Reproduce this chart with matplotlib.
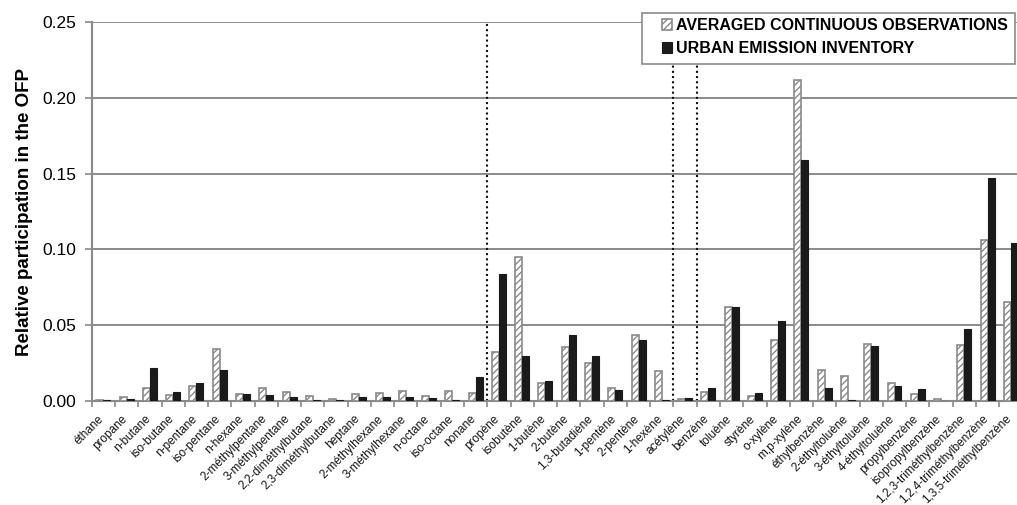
import numpy as np
import matplotlib
matplotlib.use("Agg")
import matplotlib.pyplot as plt
import matplotlib.transforms as mtransforms
from matplotlib.patches import Rectangle

plt.rcParams['font.family'] = ['Liberation Sans', 'DejaVu Sans']
plt.rcParams['hatch.linewidth'] = 1.0

species = ["éthane", "propane", "n-butane", "iso-butane", "n-pentane", "iso-pentane",
           "n-hexane", "2-méthylpentane", "3-méthylpentane", "2,2-diméthylbutane",
           "2,3-diméthylbutane", "heptane", "2-méthylhexane", "3-méthylhexane",
           "n-octane", "iso-octane", "nonane", "propène", "isobutène", "1-butène",
           "2-butène", "1,3-butadiène", "1-pentène", "2-pentène", "1-hexène",
           "acétylène", "benzène", "toluène", "styrène", "o-xylène", "m,p-xylène",
           "éthylbenzène", "2-éthyltoluène", "3-éthyltoluène", "4-éthyltoluène",
           "propylbenzène", "isopropylbenzène", "1,2,3-triméthylbenzène",
           "1,2,4-triméthylbenzène", "1,3,5-triméthylbenzène"]

observations = [0.001, 0.0024, 0.0084, 0.004, 0.0097, 0.0343, 0.0044, 0.0084, 0.0058,
                0.0031, 0.0013, 0.0049, 0.0053, 0.0068, 0.0035, 0.0068, 0.0053,
                0.0323, 0.0953, 0.012, 0.0354, 0.0248, 0.0089, 0.0434, 0.0195,
                0.0013, 0.0058, 0.0622, 0.0031, 0.0403, 0.212, 0.0204, 0.0164,
                0.0374, 0.012, 0.0047, 0.0011, 0.037, 0.106, 0.0654]

inventory = [0.001, 0.0015, 0.022, 0.0062, 0.0117, 0.0204, 0.0044, 0.0038, 0.0027,
             0.0004, 0.0009, 0.0027, 0.0027, 0.0027, 0.0022, 0.0004, 0.016,
             0.084, 0.0295, 0.0131, 0.0436, 0.0295, 0.0075, 0.0401, 0.0004,
             0.0018, 0.0084, 0.062, 0.0055, 0.0527, 0.159, 0.0084, 0.0009,
             0.0361, 0.010, 0.0078, 0.0, 0.0472, 0.147, 0.1043]

# group separators (alkanes | alkenes | alkyne | aromatics)
separators = [17, 25, 26]

fig = plt.figure(figsize=(10.17, 5.05), dpi=100)
ax = fig.add_axes([0.0902, 0.2059, 0.9152, 0.7505])

x = np.arange(len(species))
w = 0.3
grey = '#8a8a8a'

ax.set_axisbelow(True)
ax.yaxis.grid(True, color=grey, linewidth=1.4)
b1 = ax.bar(x + 0.5 - w / 2, observations, width=w, facecolor='white', edgecolor=grey,
            hatch='/////', linewidth=1.2, label='AVERAGED CONTINUOUS OBSERVATIONS', zorder=3)
b2 = ax.bar(x + 0.5 + w / 2, inventory, width=w, color='#1a1a1a', edgecolor='#1a1a1a',
            linewidth=0.8, label='URBAN EMISSION INVENTORY', zorder=3)

for s in separators:
    ax.axvline(s, color='#111111', linestyle=(0, (1, 1.5)), linewidth=1.5, zorder=2)

ax.set_xlim(0, len(species))
ax.set_ylim(0, 0.25)
ax.set_yticks(np.arange(0, 0.2501, 0.05))
ax.set_yticklabels([f"{v:.2f}" for v in np.arange(0, 0.2501, 0.05)], fontsize=12.5)

ax.set_xticks(np.arange(len(species) + 1))
ax.set_xticklabels([])
ax.set_xticks(x + 0.5, minor=True)
ax.set_xticklabels(species, minor=True, rotation=45, ha='right',
                   rotation_mode='anchor', fontsize=8.5, color='#151515')
ax.tick_params(axis='x', which='minor', length=0, pad=8.5)
ax.tick_params(axis='x', which='major', length=4, color=grey, width=1.2)
ax.tick_params(axis='y', length=5, color=grey, width=1.2, pad=6)

# nudge the slanted labels a little to the left, like the original
shift = mtransforms.ScaledTranslation(-4 / 72, 0, fig.dpi_scale_trans)
for lab in ax.get_xticklabels(minor=True):
    lab.set_transform(lab.get_transform() + shift)

for side in ['top', 'right']:
    ax.spines[side].set_visible(False)
for side in ['left', 'bottom']:
    ax.spines[side].set_color(grey)
    ax.spines[side].set_linewidth(1.5)

ax.set_ylabel('Relative participation in the OFP', fontsize=13.5, fontweight='bold',
              labelpad=7)

# legend box (white, grey border) over the top right of the plot
box = Rectangle((0.6313, 0.8733), 0.3668, 0.101, transform=fig.transFigure,
                facecolor='white', edgecolor=grey, linewidth=1.2, zorder=5)
fig.patches.append(box)
leg = fig.legend(handles=[b1, b2], loc='upper left', bbox_to_anchor=(0.651, 0.964),
                 prop={'weight': 'bold', 'size': 11.5}, frameon=False,
                 handlelength=0.65, handleheight=0.65, handletextpad=0.2,
                 borderpad=0, labelspacing=0.5, borderaxespad=0)
leg.set_zorder(10)

fig.savefig("out.png", dpi=100)
